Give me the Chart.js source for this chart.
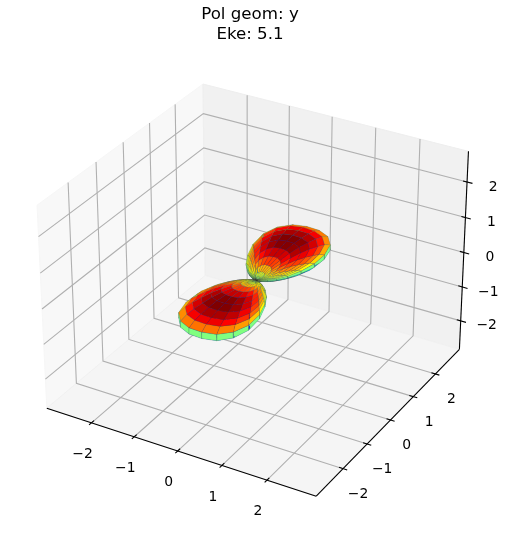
<!DOCTYPE html>
<html><head><meta charset="utf-8">
<style>html,body{margin:0;padding:0;background:#fff}canvas{display:block}</style>
<script src="https://cdn.jsdelivr.net/npm/chart.js@4"></script>
</head><body><canvas id="c" width="507" height="537"></canvas>
<script>
const titleLines=["Pol geom: y","Eke: 5.1"];
const xTicks=[-2,-1,0,1,2];
const yTicks=[-2,-1,0,1,2];
const zTicks=[-2,-1,0,1,2];
const xLim=[-3.065,3.075];
const yLim=[-3.08,3.12];
const zLim=[-2.85,2.85];
// surface rows: share of the lobe radius reached in the plane and in height
const planByRow=[0,0,0.015,0.05,0.11,0.2,0.32,0.45,0.58,0.7,0.81,0.9,0.98,0.98,0.9,0.81,0.7,0.58,0.45,0.32,0.2,0.11,0.05,0.015,0,0];
const heightByRow=[0,0,0.003,0.012,0.03,0.055,0.08,0.1,0.107,0.102,0.09,0.074,0.036,-0.036,-0.074,-0.09,-0.102,-0.107,-0.1,-0.08,-0.055,-0.03,-0.012,-0.003,0,0];
const phiDeg=[0,7.2,14.4,21.6,28.8,36,43.2,50.4,57.6,64.8,72,79.2,86.4,93.6,100.8,108,115.2,122.4,129.6,136.8,144,151.2,158.4,165.6,172.8,180,187.2,194.4,201.6,208.8,216,223.2,230.4,237.6,244.8,252,259.2,266.4,273.6,280.8,288,295.2,302.4,309.6,316.8,324,331.2,338.4,345.6,352.8,360];
const radiusByPhi=[0,0.005,0.03,0.1,0.23,0.42,0.66,0.98,1.35,1.72,2.08,2.3,2.4,2.42,2.38,2.2,1.88,1.45,1.02,0.7,0.44,0.24,0.1,0.03,0.005,0,0.005,0.03,0.1,0.23,0.42,0.66,0.98,1.35,1.72,2.08,2.3,2.4,2.42,2.38,2.2,1.88,1.45,1.02,0.7,0.44,0.24,0.1,0.03,0.005,0];

// mplot3d style view (elev 30, azim -60, dist 10, box 4:4:3)
const HA=0.595,HC=0.446,DIST=10;
const U=[0.866,0.5,0],V=[-0.25,0.433,0.866],W=[0.433,-0.75,0.5];
function cam(xv,yv,zv){
  const a=2*HA*(xv-xLim[0])/(xLim[1]-xLim[0])-HA;
  const b=2*HA*(yv-yLim[0])/(yLim[1]-yLim[0])-HA;
  const c=2*HC*(zv-zLim[0])/(zLim[1]-zLim[0])-HC;
  const d=W[0]*a+W[1]*b+W[2]*c;
  const k=DIST-d;
  return {x:(U[0]*a+U[1]*b)/k,y:(V[0]*a+V[1]*b+V[2]*c)/k,d:d};
}
const P=(x,y,z)=>{const p=cam(x,y,z);return {x:p.x,y:p.y};};
const PX=2594,OX=256.9,OY=280.2,TITLE_H=44.5,RIGHT_PAD=7;

function jet(t){
  const cl=v=>Math.max(0,Math.min(1,v));
  const r=cl(1.5-Math.abs(4*t-3)),g=cl(1.5-Math.abs(4*t-2)),b=cl(1.5-Math.abs(4*t-1));
  return `rgb(${Math.round(r*255)},${Math.round(g*255)},${Math.round(b*255)})`;
}
const ds=[]; // painted back to front, reversed below
function poly(points,fill,edge,w){
  ds.push({data:points,showLine:true,pointRadius:0,pointHitRadius:0,tension:0,fill:'shape',backgroundColor:fill,borderColor:edge,borderWidth:w});
}
function line(points,color,w){
  ds.push({data:points,showLine:true,pointRadius:0,pointHitRadius:0,tension:0,fill:false,borderColor:color,borderWidth:w});
}
const [x0,x1]=xLim,[y0,y1]=yLim,[z0,z1]=zLim;
// panes
poly([P(x0,y0,z0),P(x0,y1,z0),P(x0,y1,z1),P(x0,y0,z1),P(x0,y0,z0)],'#f8f8f8','#f6f6f6',1);
poly([P(x0,y1,z0),P(x1,y1,z0),P(x1,y1,z1),P(x0,y1,z1),P(x0,y1,z0)],'#f1f1f1','#eeeeee',1);
poly([P(x0,y0,z0),P(x1,y0,z0),P(x1,y1,z0),P(x0,y1,z0),P(x0,y0,z0)],'#f5f5f5','#f0f0f0',1);
// grid
const GRID='#b0b0b0',GW=1.1;
xTicks.forEach(t=>line([P(t,y0,z0),P(t,y1,z0),P(t,y1,z1)],GRID,GW));
yTicks.forEach(t=>line([P(x1,t,z0),P(x0,t,z0),P(x0,t,z1)],GRID,GW));
zTicks.forEach(t=>line([P(x1,y1,t),P(x0,y1,t),P(x0,y0,t)],GRID,GW));
// axes
const AX='#000000';
line([P(x0,y0,z0),P(x1,y0,z0)],AX,1.1);
line([P(x1,y0,z0),P(x1,y1,z0)],AX,1.1);
line([P(x1,y1,z0),P(x1,y1,z1)],AX,1.1);
xTicks.forEach(t=>line([P(t,y0+0.09,z0),P(t,y0-0.09,z0)],AX,1.1));
yTicks.forEach(t=>line([P(x1-0.09,t,z0),P(x1+0.09,t,z0)],AX,1.1));
zTicks.forEach(t=>line([P(x1-0.09,y1,t),P(x1+0.12,y1,t)],AX,1.1));
// surface
const verts=planByRow.map((pl,i)=>phiDeg.map((ph,j)=>{
  const F=ph*Math.PI/180,r=radiusByPhi[j];
  return [r*pl*Math.cos(F),r*pl*Math.sin(F),r*heightByRow[i]];
}));
const faces=[];
for(let i=0;i<planByRow.length-1;i++)for(let j=0;j<phiDeg.length-1;j++){
  const q=[verts[i][j],verts[i][j+1],verts[i+1][j+1],verts[i+1][j]];
  const mz=q.reduce((s,v)=>s+v[2],0)/4;
  const d=q.reduce((s,v)=>s+cam(v[0],v[1],v[2]).d,0)/4;
  faces.push({q,mz,d});
}
const zmax=Math.max(...faces.map(f=>Math.abs(f.mz)));
faces.sort((a,b)=>a.d-b.d);
faces.forEach(f=>{
  const pts=f.q.map(v=>P(v[0],v[1],v[2]));pts.push(pts[0]);
  poly(pts,jet((f.mz+zmax)/(2*zmax)),'rgba(70,70,70,0.45)',0.3);
});
ds.reverse();

const tickLabels={
  id:'tickLabels',
  afterDraw(c){
    const g=c.ctx,sx=c.scales.x,sy=c.scales.y;
    g.save();g.fillStyle='#000';g.font='13.9px "DejaVu Sans"';g.textAlign='center';g.textBaseline='middle';
    const put=(p,t,dx,dy)=>g.fillText(String(t).replace('-','\u2212'),sx.getPixelForValue(p.x)+dx,sy.getPixelForValue(p.y)+dy);
    xTicks.forEach(t=>put(P(t,y0,z0),t,-9,31.5));
    yTicks.forEach(t=>put(P(x1,t,z0),t,t<0?15:16,25.5));
    zTicks.forEach(t=>put(P(x1,y1,t),t,26,5));
    g.restore();
  }
};
new Chart(document.getElementById('c'),{
  type:'scatter',
  data:{datasets:ds},
  plugins:[tickLabels],
  options:{
    responsive:false,animation:false,events:[],
    layout:{padding:{right:RIGHT_PAD}},
    plugins:{legend:{display:false},tooltip:{enabled:false},
      title:{display:true,text:titleLines,color:'#000',font:{family:'"DejaVu Sans"',size:16.67,weight:'normal',lineHeight:1.2},padding:{top:4.5,bottom:0}}},
    scales:{
      x:{type:'linear',display:false,min:(0-OX)/PX,max:(507-RIGHT_PAD-OX)/PX},
      y:{type:'linear',display:false,min:(OY-537)/PX,max:(OY-TITLE_H)/PX}
    }
  }
});
</script></body></html>
